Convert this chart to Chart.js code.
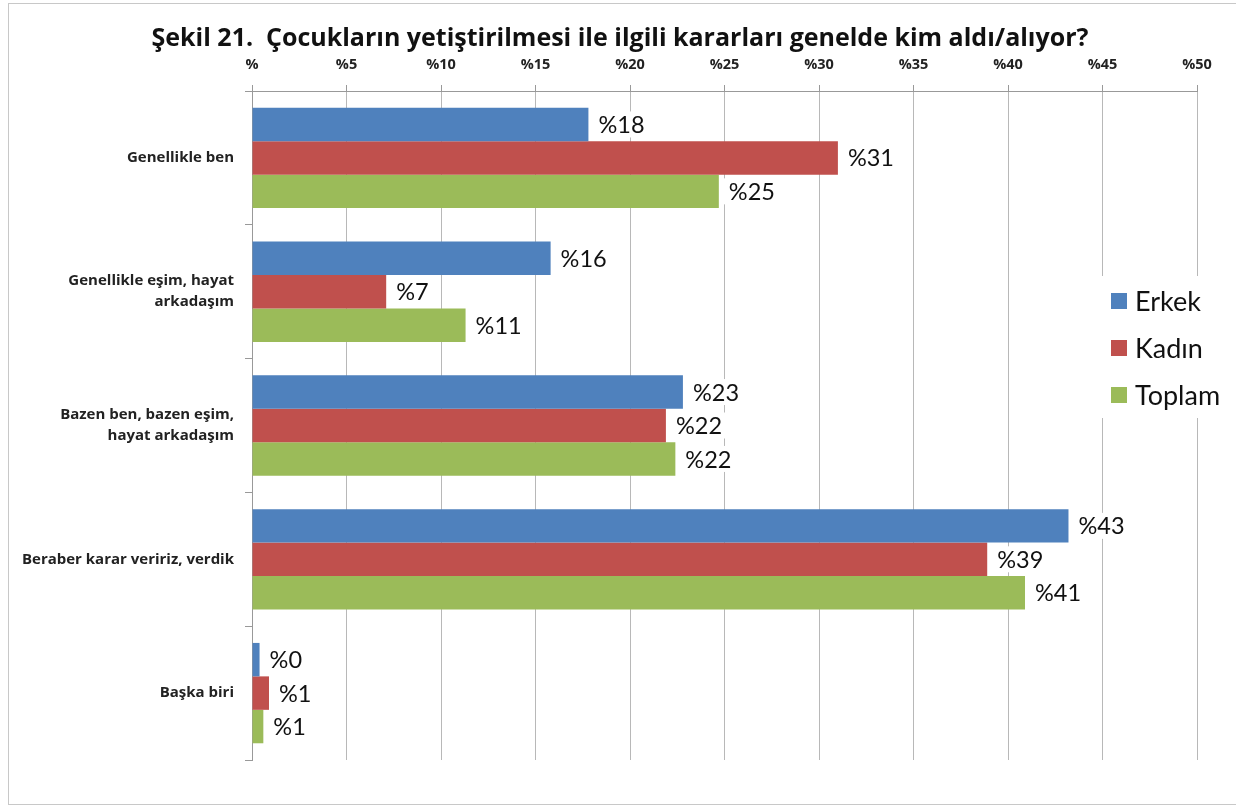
<!DOCTYPE html>
<html>
<head>
<meta charset="utf-8">
<script src="https://cdn.jsdelivr.net/npm/chart.js@4.4.1/dist/chart.umd.min.js"></script>
<style>
  body { margin: 0; background: #fff; }
  #wrap { width: 1236px; height: 810px; position: relative; }
</style>
</head>
<body>
<div id="wrap"><canvas id="myChart" width="1236" height="810"></canvas></div>
<script>
let chartTitle = 'Şekil 21.  Çocukların yetiştirilmesi ile ilgili kararları genelde kim aldı/alıyor?';
let categories = [
  'Genellikle ben',
  ['Genellikle eşim, hayat', 'arkadaşım'],
  ['Bazen ben, bazen eşim,', 'hayat arkadaşım'],
  'Beraber karar veririz, verdik',
  'Başka biri'
];
let seriesNames = ['Erkek', 'Kadın', 'Toplam'];
let erkekValues = [17.8, 15.8, 22.8, 43.2, 0.4];
let kadinValues = [31.0, 7.1, 21.9, 38.9, 0.9];
let toplamValues = [24.7, 11.3, 22.4, 40.9, 0.6];
let seriesColors = ['#4F81BD', '#C0504D', '#9BBB59'];
let xTicksMax = 50;
let xTickStep = 5;

const labelFont = '"Open Sans", sans-serif';
const valueFont = 'Lato, "Open Sans", sans-serif';

// page frame and the title, centred on the whole figure
const framePlugin = {
  id: 'frame',
  beforeDraw(chart) {
    let ctx = chart.ctx;
    ctx.save();
    ctx.fillStyle = '#fff';
    ctx.fillRect(0, 0, chart.width, chart.height);
    ctx.strokeStyle = '#c8c8c8';
    ctx.lineWidth = 1;
    ctx.strokeRect(8.5, 3.5, 1400, 801);
    ctx.font = 'bold 25px ' + labelFont;
    ctx.fillStyle = '#111';
    ctx.textAlign = 'center';
    ctx.textBaseline = 'middle';
    ctx.fillText(chartTitle, 620, 39);
    ctx.restore();
  }
};

// value labels at the end of each bar
const barLabels = {
  id: 'barLabels',
  afterDatasetsDraw(chart) {
    let ctx = chart.ctx;
    ctx.save();
    ctx.font = '23.5px ' + valueFont;
    ctx.textBaseline = 'middle';
    chart.data.datasets.forEach((ds, i) => {
      let meta = chart.getDatasetMeta(i);
      meta.data.forEach((bar, j) => {
        let txt = '%' + Math.round(ds.data[j]);
        let w = ctx.measureText(txt).width;
        ctx.fillStyle = '#fff';
        ctx.fillRect(bar.x + 1, bar.y - 13, w + 12, 26);
        ctx.fillStyle = '#111';
        ctx.fillText(txt, bar.x + 10, bar.y + 1);
      });
    });
    ctx.restore();
  }
};

// legend sitting over the right part of the plot
const sideLegend = {
  id: 'sideLegend',
  afterDraw(chart) {
    let ctx = chart.ctx;
    ctx.save();
    ctx.fillStyle = '#fff';
    ctx.fillRect(1102, 276, 134, 142);
    ctx.font = '27px ' + valueFont;
    ctx.textBaseline = 'middle';
    chart.data.datasets.forEach((ds, i) => {
      let y = 301 + i * 47;
      ctx.fillStyle = ds.backgroundColor;
      ctx.fillRect(1111, y - 8, 16, 16);
      ctx.fillStyle = '#111';
      ctx.fillText(ds.label, 1135, y + 1);
    });
    ctx.restore();
  }
};

let allValues = [erkekValues, kadinValues, toplamValues];
let datasets = [];
for (let i = 0; i < seriesNames.length; i++) {
  datasets.push({
    label: seriesNames[i],
    data: allValues[i],
    backgroundColor: seriesColors[i],
    borderWidth: 0,
    barPercentage: 1,
    categoryPercentage: 0.75
  });
}

let canvasChart = document.getElementById('myChart');
new Chart(canvasChart, {
  type: 'bar',
  data: { labels: categories, datasets: datasets },
  options: {
    indexAxis: 'y',
    responsive: false,
    animation: false,
    layout: { padding: { left: 0, right: 39, top: 55, bottom: 50 } },
    plugins: {
      legend: { display: false },
      tooltip: { enabled: false },
      title: { display: false }
    },
    scales: {
      x: {
        position: 'top',
        min: 0,
        max: xTicksMax,
        afterFit(scale) { scale.height = 36; },
        ticks: {
          stepSize: xTickStep,
          padding: 11,
          color: '#222',
          font: { family: labelFont, size: 14.5, weight: 'bold' },
          callback: v => v === 0 ? '%' : '%' + v
        },
        grid: { color: '#b8b8b8', tickLength: 6, tickColor: '#999' },
        border: { display: true, color: '#999' }
      },
      y: {
        afterFit(scale) { scale.width = 252; },
        ticks: {
          padding: 11,
          color: '#222',
          font: { family: labelFont, size: 15, weight: 'bold', lineHeight: 1.4 }
        },
        grid: { offset: true, drawOnChartArea: false, tickLength: 7, tickColor: '#999' },
        border: { display: true, color: '#999' }
      }
    }
  },
  plugins: [framePlugin, barLabels, sideLegend]
});
</script>
</body>
</html>
